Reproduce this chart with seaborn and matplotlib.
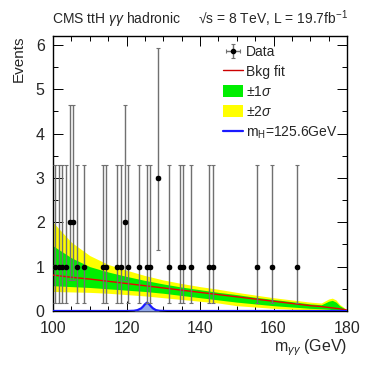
import numpy as np
import pandas as pd
import matplotlib
matplotlib.use("Agg")
import matplotlib.pyplot as plt
from matplotlib.patches import Patch
from matplotlib.lines import Line2D
import seaborn as sns

# ---- data ----
data_mass = [100.5, 101.5, 102.5, 103.5, 104.5, 105.5, 106.5, 108.5, 113.5, 114.5,
             117.5, 118.5, 119.5, 120.5, 123.5, 125.5, 126.5, 128.5, 131.5, 134.5,
             135.5, 137.5, 142.5, 143.5, 155.5, 159.5, 166.5]
data_counts = [1, 1, 1, 1, 2, 2, 1, 1, 1, 1,
               1, 1, 2, 1, 1, 1, 1, 3, 1, 1,
               1, 1, 1, 1, 1, 1, 1]
# Poisson interval bounds
data_lo = [0.17, 0.17, 0.17, 0.17, 0.71, 0.71, 0.17, 0.17, 0.17, 0.17,
           0.17, 0.17, 0.71, 0.17, 0.17, 0.17, 0.17, 1.37, 0.17, 0.17,
           0.17, 0.17, 0.17, 0.17, 0.17, 0.17, 0.17]
data_hi = [3.30, 3.30, 3.30, 3.30, 4.64, 4.64, 3.30, 3.30, 3.30, 3.30,
           3.30, 3.30, 4.64, 3.30, 3.30, 3.30, 3.30, 5.92, 3.30, 3.30,
           3.30, 3.30, 3.30, 3.30, 3.30, 3.30, 3.30]

band_x = [100, 105, 110, 115, 120, 125, 130, 135, 140, 145, 150, 155, 160, 165,
          170, 173, 175, 176, 177, 178, 180]
bkg_fit = [0.81, 0.76, 0.72, 0.67, 0.62, 0.57, 0.52, 0.47, 0.42, 0.37, 0.32, 0.27,
           0.22, 0.17, 0.12, 0.10, 0.08, 0.07, 0.06, 0.05, 0.02]
two_sig_hi = [2.00, 1.55, 1.25, 1.05, 0.92, 0.80, 0.70, 0.62, 0.55, 0.49, 0.42, 0.36,
              0.30, 0.25, 0.20, 0.18, 0.27, 0.29, 0.25, 0.15, 0.03]
one_sig_hi = [1.47, 1.20, 1.00, 0.88, 0.78, 0.69, 0.61, 0.54, 0.48, 0.42, 0.37, 0.31,
              0.26, 0.21, 0.16, 0.14, 0.22, 0.24, 0.20, 0.12, 0.02]
one_sig_lo = [0.57, 0.55, 0.53, 0.50, 0.47, 0.44, 0.40, 0.35, 0.30, 0.25, 0.20, 0.16,
              0.12, 0.09, 0.06, 0.05, 0.04, 0.03, 0.02, 0.01, 0.00]
two_sig_lo = [0.44, 0.43, 0.42, 0.40, 0.37, 0.34, 0.30, 0.26, 0.22, 0.18, 0.12, 0.09,
              0.06, 0.04, 0.03, 0.02, 0.01, 0.00, 0.00, 0.00, 0.00]

sig_x = [100, 120, 122, 123, 124, 124.5, 125, 125.6, 126.2, 126.7, 127.2, 128, 129, 131, 180]
sig_y = [0, 0, 0.005, 0.02, 0.06, 0.10, 0.15, 0.19, 0.15, 0.10, 0.06, 0.02, 0.005, 0, 0]

# ---- plot ----
sns.set_theme(style="ticks")
plt.rcParams['font.family'] = ['Liberation Sans', 'DejaVu Sans']
plt.rcParams['mathtext.fontset'] = 'custom'
plt.rcParams['mathtext.rm'] = 'Liberation Sans'
plt.rcParams['mathtext.it'] = 'Liberation Sans:italic'

fig = plt.figure(figsize=(3.74, 3.65), dpi=100)
ax = fig.add_axes([53/374, 1 - 311/365, (347-53)/374, (311-36)/365])

bands = pd.DataFrame({"m": band_x, "fit": bkg_fit})
ax.fill_between(band_x, two_sig_lo, two_sig_hi, color="#ffff00", lw=0, zorder=1)
ax.fill_between(band_x, one_sig_lo, one_sig_hi, color="#00ee00", lw=0, zorder=2)
sns.lineplot(data=bands, x="m", y="fit", color="#ee0000", lw=1.0, ax=ax, zorder=3)

sig = pd.DataFrame({"m": sig_x, "s": sig_y})
ax.fill_between(sig_x, 0, sig_y, color="#8fa6ea", lw=0, zorder=3)
sns.lineplot(data=sig, x="m", y="s", color="#1a1aff", lw=1.6, ax=ax, zorder=4)

cnt = np.array(data_counts, dtype=float)
yerr = [cnt - np.array(data_lo), np.array(data_hi) - cnt]
eb = ax.errorbar(data_mass, cnt, yerr=yerr, xerr=0.5, fmt="o", ms=3.0,
                 color="black", ecolor="#707070", elinewidth=1.0, capsize=1.3,
                 capthick=0.8, zorder=5)

ax.set_xlim(100, 180)
ax.set_ylim(0, 6.2)
ax.set_xticks([100, 120, 140, 160, 180])
ax.set_xticks(np.arange(100, 181, 5), minor=True)
ax.set_yticks([0, 1, 2, 3, 4, 5, 6])
ax.set_yticks(np.arange(0, 6.01, 0.5), minor=True)
ax.tick_params(which="both", direction="in", top=True, right=True,
               labelsize=11.5, color="black")
ax.tick_params(axis="x", which="both", pad=7)
ax.tick_params(axis="y", which="both", pad=6)
ax.tick_params(which="major", length=7, width=0.7)
ax.tick_params(which="minor", length=3.5, width=0.7)
for s in ax.spines.values():
    s.set_linewidth(1.0)
    s.set_color("black")

ax.set_xlabel(r"m$_{\gamma\gamma}$ (GeV)", fontsize=11.5, loc="right", labelpad=1)
ax.set_ylabel("Events", fontsize=11, loc="top", labelpad=7)

fig.text(52/374, 1 - 19/365, r"CMS ttH $\gamma\gamma$ hadronic", fontsize=10,
         va="center", ha="left")
fig.text(198/374, 1 - 19/365, "\u221as = 8 TeV, L = 19.7fb$^{-1}$", fontsize=10,
         va="center", ha="left")

handles = [eb,
           Line2D([0], [0], color="#cc0000", lw=1.0),
           Patch(facecolor="#00ee00", edgecolor="none"),
           Patch(facecolor="#ffff00", edgecolor="none"),
           Line2D([0], [0], color="#1a1aff", lw=1.6)]
labels = ["Data", "Bkg fit", r"$\pm1\sigma$", r"$\pm2\sigma$", r"m$_{\rm H}$=125.6GeV"]
leg = ax.legend(handles, labels, loc="upper right", frameon=False, fontsize=10,
                handlelength=1.4, handleheight=0.95, handletextpad=0.25,
                labelspacing=0.42, borderaxespad=0.0, borderpad=0.0,
                bbox_to_anchor=((338 - 53) / 294, (311 - 45) / 275))
fig.savefig("out.png", dpi=100)
